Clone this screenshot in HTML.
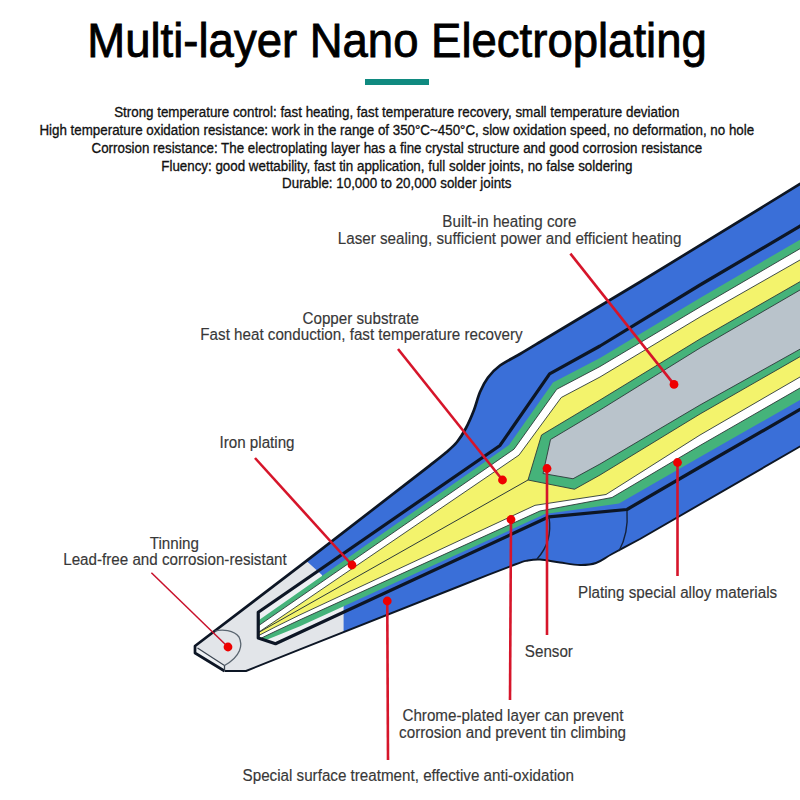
<!DOCTYPE html>
<html><head><meta charset="utf-8">
<style>
html,body{margin:0;padding:0;background:#fff;}
body{width:800px;height:800px;overflow:hidden;position:relative;}
svg{position:absolute;left:0;top:0;}
text{font-family:"Liberation Sans",sans-serif;}
</style></head>
<body>
<svg width="800" height="800" viewBox="0 0 800 800">
<rect width="800" height="800" fill="#fff"/>
<g font-size="45.5" fill="#000" stroke="#000" stroke-width="0.8"><text x="87.3" y="57" transform="matrix(1 0 0 1.05 0 -2.850)" text-anchor="start">Multi-layer Nano Electroplating</text></g>
<rect x="365" y="79" width="64" height="6" fill="#108a80"/>
<g font-size="13.36" fill="#111" stroke="#111" stroke-width="0.3"><text x="396.8" y="117.5" transform="matrix(1 0 0 1.07 0 -8.225)" text-anchor="middle">Strong temperature control: fast heating, fast temperature recovery, small temperature deviation</text>
<text x="396.8" y="135" transform="matrix(1 0 0 1.07 0 -9.450)" text-anchor="middle">High temperature oxidation resistance: work in the range of 350°C~450°C, slow oxidation speed, no deformation, no hole</text>
<text x="396.8" y="153.25" transform="matrix(1 0 0 1.07 0 -10.728)" text-anchor="middle">Corrosion resistance: The electroplating layer has a fine crystal structure and good corrosion resistance</text>
<text x="396.8" y="170.75" transform="matrix(1 0 0 1.07 0 -11.953)" text-anchor="middle">Fluency: good wettability, fast tin application, full solder joints, no false soldering</text>
<text x="396.8" y="188.5" transform="matrix(1 0 0 1.07 0 -13.195)" text-anchor="middle">Durable: 10,000 to 20,000 solder joints</text></g>
<g font-size="15.2" fill="#383838" stroke="#383838" stroke-width="0.15"><text x="509.4" y="227.5" transform="matrix(1 0 0 1.08 0 -18.200)" text-anchor="middle">Built-in heating core</text>
<text x="509.6" y="243.75" transform="matrix(1 0 0 1.08 0 -19.500)" text-anchor="middle">Laser sealing, sufficient power and efficient heating</text>
<text x="360.75" y="324.5" transform="matrix(1 0 0 1.08 0 -25.960)" text-anchor="middle">Copper substrate</text>
<text x="361.5" y="340" transform="matrix(1 0 0 1.08 0 -27.200)" text-anchor="middle">Fast heat conduction, fast temperature recovery</text>
<text x="257" y="447.9" transform="matrix(1 0 0 1.08 0 -35.832)" text-anchor="middle">Iron plating</text>
<text x="174.4" y="549.5" transform="matrix(1 0 0 1.08 0 -43.960)" text-anchor="middle">Tinning</text>
<text x="175" y="565.4" transform="matrix(1 0 0 1.08 0 -45.232)" text-anchor="middle">Lead-free and corrosion-resistant</text>
<text x="548.9" y="656.8" transform="matrix(1 0 0 1.08 0 -52.544)" text-anchor="middle">Sensor</text>
<text x="677.6" y="598.4" transform="matrix(1 0 0 1.08 0 -47.872)" text-anchor="middle">Plating special alloy materials</text>
<text x="513" y="721.5" transform="matrix(1 0 0 1.08 0 -57.720)" text-anchor="middle">Chrome-plated layer can prevent</text>
<text x="512.6" y="737.8" transform="matrix(1 0 0 1.08 0 -59.024)" text-anchor="middle">corrosion and prevent tin climbing</text>
<text x="408.25" y="781.25" transform="matrix(1 0 0 1.08 0 -62.500)" text-anchor="middle">Special surface treatment, effective anti-oxidation</text></g>


<defs>
 <clipPath id="clipO"><path d="M195,646 L300.00,565.88 L430.00,465.40 C432.67,463.25 441.50,456.40 446.00,452.50 C450.50,448.60 453.67,446.08 457.00,442.00 C460.33,437.92 463.17,433.33 466.00,428.00 C468.83,422.67 471.67,416.00 474.00,410.00 C476.33,404.00 477.67,397.42 480.00,392.00 C482.33,386.58 484.67,381.92 488.00,377.50 C491.33,373.08 494.67,369.42 500.00,365.50 C505.33,361.58 513.33,357.92 520.00,354.00 C526.67,350.08 536.67,344.00 540.00,342.00 L640,282 L800,184 L850,153.5 L850,417 L800,446.5 L640.00,539.00 C635.33,541.50 619.33,550.00 612.00,554.00 C604.67,558.00 601.33,561.17 596.00,563.00 C590.67,564.83 586.00,565.08 580.00,565.00 C574.00,564.92 566.67,563.42 560.00,562.50 C553.33,561.58 545.33,559.83 540.00,559.50 C534.67,559.17 532.17,559.67 528.00,560.50 C523.83,561.33 526.33,560.25 515.00,564.50 C503.67,568.75 469.17,582.42 460.00,586.00 L300,649.4 L246,671 L224.5,671 L195,653 Z"/></clipPath>
 <clipPath id="clipI"><path d="M258.25,612.28 500.00,445.45 549.60,373.90 600.00,346.00 700.00,285.00 800.00,226.20 850.00,196.80 L850.00,380.75 800.00,409.50 700.00,467.00 627.00,509.50 549.00,516.82 275.50,643.70 258.25,638.00 Z"/></clipPath>
</defs>
<path d="M195,646 L300.00,565.88 L430.00,465.40 C432.67,463.25 441.50,456.40 446.00,452.50 C450.50,448.60 453.67,446.08 457.00,442.00 C460.33,437.92 463.17,433.33 466.00,428.00 C468.83,422.67 471.67,416.00 474.00,410.00 C476.33,404.00 477.67,397.42 480.00,392.00 C482.33,386.58 484.67,381.92 488.00,377.50 C491.33,373.08 494.67,369.42 500.00,365.50 C505.33,361.58 513.33,357.92 520.00,354.00 C526.67,350.08 536.67,344.00 540.00,342.00 L640,282 L800,184 L850,153.5 L850,417 L800,446.5 L640.00,539.00 C635.33,541.50 619.33,550.00 612.00,554.00 C604.67,558.00 601.33,561.17 596.00,563.00 C590.67,564.83 586.00,565.08 580.00,565.00 C574.00,564.92 566.67,563.42 560.00,562.50 C553.33,561.58 545.33,559.83 540.00,559.50 C534.67,559.17 532.17,559.67 528.00,560.50 C523.83,561.33 526.33,560.25 515.00,564.50 C503.67,568.75 469.17,582.42 460.00,586.00 L300,649.4 L246,671 L224.5,671 L195,653 Z" fill="#3a6fd8"/>
<path clip-path="url(#clipO)" d="M150,480 L300,556 L308.75,563 L322,575 L323,600 L343.6,605 L343.6,700 L150,700 Z" fill="#e2e5e9"/>
<path d="M195,653 L224.5,671 L224.5,665.5 L197.5,648 Z" fill="#eef1f4"/>
<path d="M850,153.5 L800,184 L640,282 L540.00,342.00 C536.67,344.00 526.67,350.08 520.00,354.00 C513.33,357.92 505.33,361.58 500.00,365.50 C494.67,369.42 491.33,373.08 488.00,377.50 C484.67,381.92 482.33,386.58 480.00,392.00 C477.67,397.42 476.33,404.00 474.00,410.00 C471.67,416.00 468.83,422.67 466.00,428.00 C463.17,433.33 460.33,437.92 457.00,442.00 C453.67,446.08 450.50,448.60 446.00,452.50 C441.50,456.40 432.67,463.25 430.00,465.40 L300.00,565.88 L195,646 L195,653 L224.5,671" fill="none" stroke="#0d1625" stroke-width="2.7" stroke-linejoin="round"/>
<path d="M224.5,671 L246,671 L300,649.4 L460.00,586.00 C469.17,582.42 503.67,568.75 515.00,564.50 C526.33,560.25 523.83,561.33 528.00,560.50 C532.17,559.67 534.67,559.17 540.00,559.50 C545.33,559.83 553.33,561.58 560.00,562.50 C566.67,563.42 574.00,564.92 580.00,565.00 C586.00,565.08 590.67,564.83 596.00,563.00 C601.33,561.17 604.67,558.00 612.00,554.00 C619.33,550.00 635.33,541.50 640.00,539.00 L800,446.5 L850,417" fill="none" stroke="#0d1625" stroke-width="1.9" stroke-linejoin="round"/>
<g clip-path="url(#clipI)">
 <rect x="200" y="150" width="700" height="600" fill="#3a6fd8"/>
 <path d="M150,480 L300,556 L308.75,563 L322,575 L323,600 L343.6,605 L343.6,700 L150,700 Z" fill="#eef0f3"/>
 <path d="M250.00,626.37 509.00,445.08 553.00,382.50 600.00,358.00 700.00,298.00 800.00,239.70 850.00,210.55 L850.00,371.50 800.00,400.00 700.00,457.00 619.00,503.50 545.00,514.12 300.00,626.30 276.00,636.00 250.00,646.50 Z" fill="#45b37a"/>
 <path d="M250.00,631.60 514.00,449.18 556.75,389.25 600.00,366.50 700.00,307.00 800.00,248.70 850.00,219.55 L850.00,359.25 800.00,388.00 700.00,445.50 612.00,497.50 540.00,510.99 300.00,619.80 276.00,631.00 250.00,643.50 Z" fill="#ffffff" stroke="#2c3a3a" stroke-width="0.9"/>
 <path d="M250.00,638.15 519.00,455.10 561.25,397.50 600.00,377.00 700.00,317.00 800.00,260.00 850.00,231.50 L850.00,348.00 800.00,377.00 700.00,435.00 606.00,494.50 535.00,505.33 300.00,614.80 276.00,626.60 250.00,640.00 Z" fill="#f3f36c" stroke="#2c3a3a" stroke-width="0.9"/>
 <path d="M250.00,637.37 528.00,480.00" fill="none" stroke="#2c3a3a" stroke-width="1"/>
 <path d="M528.00,480.00 541.50,435.00 600.00,400.00 700.00,339.00 800.00,281.70 850.00,253.05 L850.00,328.05 800.00,356.70 700.00,414.00 600.00,475.00 574.50,489.25 528.00,480.00 Z" fill="#45b37a" stroke="#2c3a3a" stroke-width="0.9"/>
 <path d="M543.00,473.50 550.50,439.50 600.00,410.00 700.00,348.00 800.00,290.00 850.00,261.00 L850.00,321.30 800.00,349.20 700.00,405.00 600.00,464.00 573.00,478.75 543.00,473.50 Z" fill="#b9c3cb" stroke="#2c3a3a" stroke-width="0.9"/>
</g>
<path d="M850.00,196.80 800.00,226.20 700.00,285.00 600.00,346.00 549.60,373.90 500.00,445.45 258.25,612.28 L258.25,638.00 275.50,643.70 549.00,516.82 627.00,509.50 700.00,467.00 800.00,409.50 850.00,380.75" fill="none" stroke="#0d1625" stroke-width="3.2" stroke-linejoin="round"/>
<path d="M549,517 C551,530 549,546 537,559" fill="none" stroke="#14223c" stroke-width="1.4"/>
<path d="M627,511 C628,525 625,540 619,551" fill="none" stroke="#14223c" stroke-width="1.4"/>
<path d="M197.5,648 L224.5,665.5 L224.5,671" fill="none" stroke="#3a4450" stroke-width="1.3"/>
<path d="M214.75,631.25 C222,629 234,630 239,637 C243,645 241,656 224.5,665.5" fill="none" stroke="#5a6570" stroke-width="1.3"/>


<g stroke="#d6152a" stroke-width="2.6" fill="none">
 <path d="M570.4,253.6 L674,384.4"/>
 <path d="M398,349 L502.5,480"/>
 <path d="M255,458 L352,565"/>
 <path d="M547,468.5 L547,635"/>
 <path d="M511,519.5 L510,700"/>
 <path d="M387.25,601 L388,760"/>
 <path d="M677.5,462.5 L677.5,576"/>
</g>
<path d="M151.4,572.75 L228,647" stroke="#c8102a" stroke-width="1.5" fill="none"/>
<g fill="#ee0000">
 <circle cx="674" cy="384.4" r="4.4"/>
 <circle cx="502.5" cy="480" r="4.4"/>
 <circle cx="352" cy="565" r="4.4"/>
 <circle cx="228" cy="647" r="4.4"/>
 <circle cx="547" cy="468.5" r="4.4"/>
 <circle cx="511" cy="519.5" r="4.4"/>
 <circle cx="387.25" cy="601" r="4.4"/>
 <circle cx="677.5" cy="462.5" r="4.4"/>
</g>

</svg>
</body></html>
